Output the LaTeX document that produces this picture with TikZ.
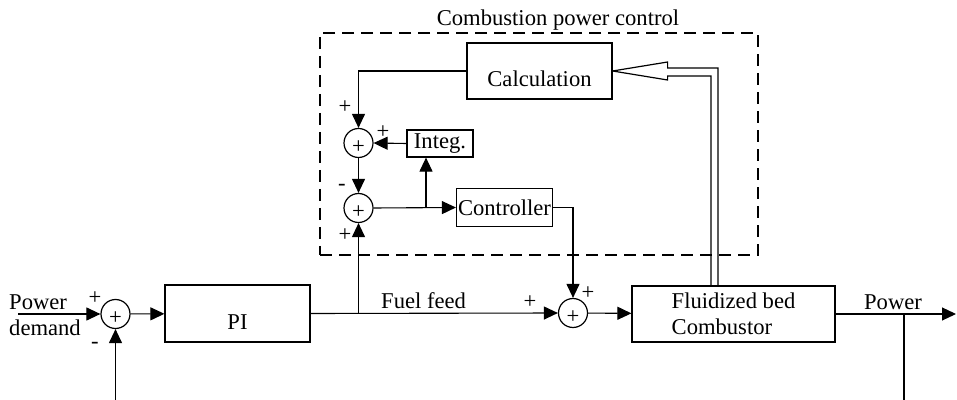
\documentclass[tikz,border=0pt]{standalone}
\usepackage{fontspec}
\setmainfont{Liberation Serif}
\usepackage{tikz}
\usetikzlibrary{arrows.meta, positioning, calc}

\tikzset{
  block/.style={draw, line width=0.6pt, inner sep=0pt},
  lowtext/.style={text height=15.5pt, text depth=0pt},
  sumnode/.style={draw, circle, line width=0.6pt, minimum size=14.5pt, inner sep=0pt,
    label={[inner sep=0pt, yshift=-2pt]center:+}},
  sign/.style={inner sep=0pt},
  arr/.style={-{Triangle[length=7pt, width=6.5pt]}},
}

\begin{document}
\begin{tikzpicture}[x=0.5pt, y=-0.5pt, line width=0.55pt,
    font=\fontsize{11.3}{13}\selectfont]
  \useasboundingbox (0,0) rectangle (957,400);

  % Blocks
  \node[block, lowtext, minimum width=72.5pt, minimum height=28.5pt] (pi) at (237.5,313.5) {PI};
  \node[block, align=left, minimum width=101.5pt, minimum height=28pt] (fbc) at (733.5,314)
    {Fluidized bed\\Combustor};
  \node[block, lowtext, minimum width=72.5pt, minimum height=28pt] (calc) at (539.5,71) {Calculation};
  \node[block, minimum width=33pt, minimum height=13.5pt] (integ) at (440,143.5) {Integ.};
  \node[block, minimum width=48pt, minimum height=19pt] (ctrl) at (504.5,207.5) {Controller};

  % Summing points
  \node[sumnode] (s1) at (115.5,314) {};
  \node[sumnode] (s2) at (573,313) {};
  \node[sumnode] (sA) at (358.5,143) {};
  \node[sumnode] (sB) at (358.5,208) {};

  % Combustion power control frame
  \node[draw, dashed, dash pattern=on 6pt off 3.5pt, line width=0.6pt,
    minimum width=219pt, minimum height=111pt, inner sep=0pt,
    label={[inner sep=1pt, xshift=9.5pt]above:Combustion power control}] (cpc) at (539,144) {};

  % Main loop
  \coordinate (in) at (18,314);
  \coordinate (fbin) at (115.5,400);
  \coordinate (out) at (956,314);
  \coordinate (tap) at (904,314);
  \coordinate (fbout) at (904,400);
  \coordinate (fork) at (sB |- pi.east);
  \draw[arr] (in) -- (s1);
  \draw[arr] (fbin) -- (s1);
  \draw[arr] (s1) -- (pi);
  \draw[arr] (pi.east) -- (s2.west);
  \draw[arr] (s2) -- (fbc);
  \draw[arr] (fbc.east) -- (out);
  \draw (tap) -- (fbout);

  % Inner loop
  \coordinate (br) at (426,208);
  \draw[arr] (fork) -- (sB.south);
  \draw[arr] (calc.west) -| (sA.north);
  \draw[arr] (integ.west) -- (sA.east);
  \draw[arr] (sA) -- (sB);
  \draw[arr] (sB.east) -- (ctrl.west);
  \draw[arr] (br) -- (br |- integ.south);
  \draw[arr] (ctrl.east) -| (s2.north);

  % Hollow arrow back to Calculation
  \draw[line width=0.6pt] (calc.east) -- ++(55,-9) -- ++(0,6) -| (718,0 |- fbc.north);
  \draw[line width=0.6pt] (calc.east) -- ++(55,9) -- ++(0,-4) -| (711,0 |- fbc.north);

  % Texts
  \node[anchor=west, align=left] (dem) at (2,315) {Power\\demand};
  \node[anchor=west] (fuel) at (374,301) {Fuel feed};
  \node (pow) at (893,302) {Power};

  % Signs
  \node[sign] (s1p) at (95,298) {+};
  \node[sign] (s1m) at (95,345) {-};
  \node[sign] (sAp) at (345,107) {+};
  \node[sign] (sAr) at (383,132) {+};
  \node[sign] (sBm) at (342,187) {-};
  \node[sign] (sBp) at (345,235) {+};
  \node[sign] (s2p) at (530,302) {+};
  \node[sign] (s2r) at (588,293) {+};
\end{tikzpicture}
\end{document}
